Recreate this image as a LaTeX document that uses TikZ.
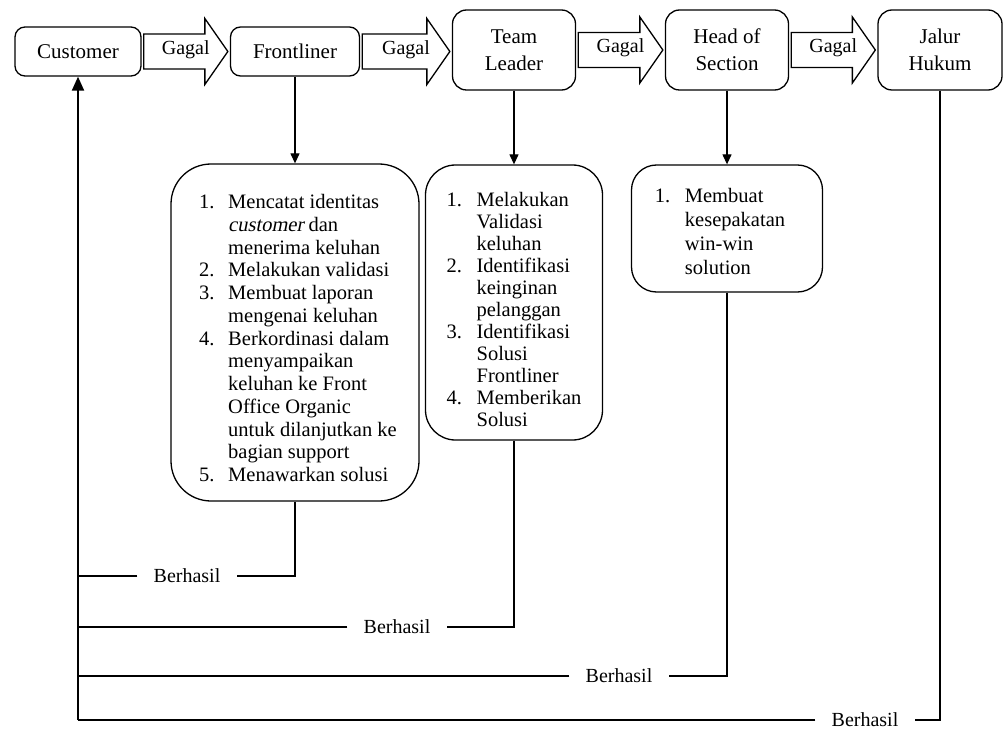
\documentclass[tikz,border=0pt]{standalone}
\usepackage{fontspec}
\setmainfont{Liberation Serif}[ItalicFont={Liberation Serif}, ItalicFeatures={FakeSlant=0.2}]
\usetikzlibrary{arrows.meta,calc}

% number column of the task lists
\newcommand\stepno[2]{\makebox[#1][l]{#2}}

% hollow block arrow labelled "Gagal" from #1 to #2, label node #3
\newcommand\gagalarrow[3]{%
  \path (#1.east) ++(2,0) coordinate (#3s)
        (#2.west |- #1.east) ++(-2,0) coordinate (#3e);
  \draw[barrow] ($(#3s)+(0,-17.5)$) -- ($(#3e)+(-23,-17.5)$)
        -- ($(#3e)+(-23,-33)$) -- (#3e) -- ($(#3e)+(-23,33)$)
        -- ($(#3e)+(-23,17.5)$) -- ($(#3s)+(0,17.5)$) -- cycle;
  \node[gagal] (#3) at ($(#3s)!.5!(#3e)+(0,-2)$) {Gagal};
}

\begin{document}
\begin{tikzpicture}[x=1pt,y=-1pt,
  role/.style={draw, line width=1.3pt, rounded corners=10pt, align=center,
    inner sep=0pt, font=\fontsize{21}{27}\selectfont},
  task/.style={draw, line width=1.3pt, inner sep=0pt,
    font=\fontsize{20.5}{22.75}\selectfont},
  barrow/.style={draw, line width=1.3pt, line join=miter, fill=white},
  gagal/.style={font=\fontsize{20}{22}\selectfont, inner sep=0pt},
  lbl/.style={font=\fontsize{20}{22}\selectfont, inner ysep=0pt, inner xsep=0pt,
    minimum width=99pt},
  link/.style={line width=1.2pt},
  down/.style={link, -{Triangle[width=9pt,length=10pt]}},
  trunk/.style={line width=2pt, -{Triangle[width=12pt,length=14pt]}}]
\useasboundingbox (0,0) rectangle (1004,730);

% escalation levels
\node[role, minimum width=126pt, minimum height=49pt] (cust) at (78,51.5) {Customer};
\node[role, minimum width=129pt, minimum height=49pt] (front) at (295,51.5) {Frontliner};
\node[role, rounded corners=14pt, minimum width=123pt, minimum height=80pt] (tl) at (514,50) {Team\\Leader};
\node[role, rounded corners=14pt, minimum width=123pt, minimum height=80pt] (hos) at (727,50) {Head of\\Section};
\node[role, rounded corners=14pt, minimum width=124pt, minimum height=80pt] (law) at (940,50) {Jalur\\Hukum};

% escalation on failure
\gagalarrow{cust}{front}{g1}
\gagalarrow{front}{tl}{g2}
\gagalarrow{tl}{hos}{g3}
\gagalarrow{hos}{law}{g4}

% tasks of each level
\node[task, rounded corners=40pt, minimum width=248pt, minimum height=337pt] (frl) at (295,332.5) {%
\begin{tabular}{@{\hspace{6pt}}l@{}l@{}}
\noalign{\vskip 16pt}
\stepno{29pt}{1.} & Mencatat identitas\\
 & \textit{customer} dan\\
 & menerima keluhan\\
\stepno{29pt}{2.} & Melakukan validasi\\
\stepno{29pt}{3.} & Membuat laporan\\
 & mengenai keluhan\\
\stepno{29pt}{4.} & Berkordinasi dalam\\
 & menyampaikan\\
 & keluhan ke Front\\
 & Office Organic\\
 & untuk dilanjutkan ke\\
 & bagian support\\
\stepno{29pt}{5.} & Menawarkan solusi
\end{tabular}};

\node[task, rounded corners=30pt, minimum width=177pt, minimum height=275pt,
  font=\fontsize{20.5}{22}\selectfont] (tll) at (514,302.5) {%
\begin{tabular}{@{}l@{}l@{}}
\noalign{\vskip 20pt}
\stepno{30pt}{1.} & Melakukan\\
 & Validasi\\
 & keluhan\\
\stepno{30pt}{2.} & Identifikasi\\
 & keinginan\\
 & pelanggan\\
\stepno{30pt}{3.} & Identifikasi\\
 & Solusi\\
 & Frontliner\\
\stepno{30pt}{4.} & Memberikan\\
 & Solusi
\end{tabular}};

\node[task, rounded corners=25pt, minimum width=191pt, minimum height=127pt,
  font=\fontsize{20.5}{24}\selectfont] (hosl) at (727,228.5) {%
\begin{tabular}{@{}l@{}l@{\hspace{14pt}}}
\noalign{\vskip 10pt}
\stepno{30pt}{1.} & Membuat\\
 & kesepakatan\\
 & win-win\\
 & solution
\end{tabular}};

\draw[down] (front.south) -- (front.south |- frl.north);
\draw[down] (tl.south) -- (tl.south |- tll.north);
\draw[down] (hos.south) -- (hos.south |- hosl.north);

% return to the customer on success
\node[lbl] (ok1) at (187,576) {Berhasil};
\node[lbl] (ok2) at (397,627) {Berhasil};
\node[lbl] (ok3) at (619,676) {Berhasil};
\node[lbl] (ok4) at (865,720) {Berhasil};

\draw[link] (frl.south) |- (ok1.east);
\draw[link] (tll.south) |- (ok2.east);
\draw[link] (hosl.south) |- (ok3.east);
\draw[link] (law.south) |- (ok4.east);
\draw[link] (ok1.west) -- (ok1.west -| cust.south);
\draw[link] (ok2.west) -- (ok2.west -| cust.south);
\draw[link] (ok3.west) -- (ok3.west -| cust.south);
\draw[link] (ok4.west) -- (ok4.west -| cust.south) coordinate (foot);
\draw[trunk] (foot) -- (cust.south);
\end{tikzpicture}
\end{document}
